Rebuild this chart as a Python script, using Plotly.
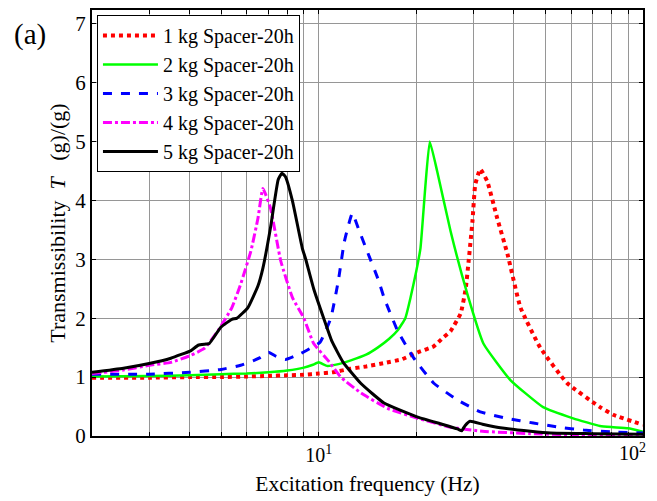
import plotly.graph_objects as go

# ---- data ----
f1 = [2.0, 3, 4, 5, 6, 7, 8, 9, 10, 11, 12.5, 14, 16, 18, 20.2, 22.6, 24.2, 25.5, 27.4, 28.4, 29.0, 29.8, 30.4, 31.5, 33.1, 35.5, 38.2, 41.9, 48.2, 58.3, 73.7, 81, 100]
t1 = [0.99, 0.99, 1.0, 1.0, 1.01, 1.02, 1.03, 1.04, 1.06, 1.08, 1.14, 1.18, 1.24, 1.3, 1.42, 1.52, 1.67, 1.78, 2.08, 2.5, 2.97, 3.65, 4.27, 4.53, 4.32, 3.70, 3.09, 2.18, 1.50, 0.90, 0.49, 0.36, 0.19]

f2 = [2.0, 3, 4, 5, 6, 7, 8, 9, 9.6, 10, 10.6, 11.5, 12.5, 14, 15.2, 16.5, 17.5, 18.5, 19.2, 20.0, 20.6, 21.3, 22.0, 23.2, 25.5, 28.7, 32.2, 39.0, 49.2, 60.9, 73.7, 81, 90, 100]
t2 = [1.01, 1.02, 1.03, 1.05, 1.06, 1.08, 1.11, 1.16, 1.21, 1.25, 1.19, 1.22, 1.28, 1.38, 1.5, 1.65, 1.79, 2.0, 2.35, 2.8, 3.19, 4.2, 5.0, 4.49, 3.48, 2.42, 1.57, 0.95, 0.49, 0.30, 0.17, 0.15, 0.13, 0.07]

f3 = [2.0, 3, 4, 5, 5.75, 6.3, 6.6, 7.0, 7.4, 7.9, 8.8, 9.5, 10.1, 10.9, 11.5, 12.0, 12.7, 13.3, 14.1, 15.3, 15.9, 17.5, 19.6, 22.6, 26.8, 31.5, 38, 45.9, 55, 65.6, 80, 100]
t3 = [1.05, 1.05, 1.08, 1.13, 1.2, 1.28, 1.33, 1.42, 1.35, 1.3, 1.40, 1.5, 1.59, 2.0, 2.64, 3.3, 3.78, 3.5, 3.14, 2.64, 2.35, 1.79, 1.33, 0.9, 0.61, 0.41, 0.3, 0.22, 0.15, 0.10, 0.07, 0.05]

f4 = [2.0, 2.5, 3.0, 3.5, 4.04, 4.45, 4.9, 5.4, 5.75, 6.18, 6.5, 6.73, 7.1, 7.64, 8.3, 9.0, 9.65, 10.7, 11.7, 13.5, 16.3, 20.2, 25.5, 32, 45, 60, 100]
t4 = [1.06, 1.12, 1.2, 1.25, 1.37, 1.49, 1.79, 2.18, 2.58, 3.14, 3.7, 4.2, 3.87, 2.97, 2.35, 2.0, 1.57, 1.28, 1.0, 0.73, 0.47, 0.30, 0.15, 0.08, 0.04, 0.02, 0.01]

f5 = [2.0, 2.5, 3.0, 3.5, 4.04, 4.25, 4.5, 4.6, 5.0, 5.4, 5.6, 6.05, 6.5, 6.73, 7.1, 7.5, 7.7, 7.9, 8.3, 8.9, 9.12, 9.65, 10.36, 11.0, 11.9, 13.5, 15.9, 20.2, 24, 26.8, 27.6, 28.3, 29.3, 32, 36.3, 45, 51.8, 70, 100]
t5 = [1.08, 1.15, 1.23, 1.32, 1.45, 1.54, 1.56, 1.57, 1.85, 1.98, 2.0, 2.18, 2.55, 2.85, 3.53, 4.35, 4.46, 4.4, 3.99, 3.19, 3.0, 2.5, 2.0, 1.6, 1.25, 0.89, 0.56, 0.32, 0.2, 0.12, 0.09, 0.18, 0.25, 0.2, 0.14, 0.08, 0.05, 0.04, 0.03]

names = ["1 kg Spacer-20h", "2 kg Spacer-20h", "3 kg Spacer-20h", "4 kg Spacer-20h", "5 kg Spacer-20h"]

x_tickvals = [2, 3, 4, 5, 6, 7, 8, 9, 10, 20, 30, 40, 50, 60, 70, 80, 90, 100]
x_ticktext = ["", "", "", "", "", "", "", "", "10<sup>1</sup>", "", "", "", "", "", "", "", "", ""]
last_tick_label = "10<sup>2</sup>"
y_tickvals = [0, 1, 2, 3, 4, 5, 6, 7]

FONT = "Liberation Serif"

fig = go.Figure()
series = [
    (f1, t1, "rgb(255,0,0)", "dot", 4),
    (f2, t2, "rgb(0,255,0)", "solid", 2.5),
    (f3, t3, "rgb(0,0,255)", "dash", 3),
    (f4, t4, "rgb(255,0,255)", "dashdot", 3),
    (f5, t5, "rgb(0,0,0)", "solid", 3),
]
for (fx, ty, col, dash, w), nm in zip(series, names):
    fig.add_trace(go.Scatter(x=fx, y=ty, mode="lines", name=nm,
                             line=dict(color=col, dash=dash, width=w, shape="spline", smoothing=0.4)))

grid = "rgb(150,150,150)"
fig.update_layout(
    width=665, height=509,
    margin=dict(l=84, r=30, t=0, b=81),
    plot_bgcolor="white", paper_bgcolor="white",
    font=dict(family=FONT, size=20, color="black"),
    showlegend=True,
    legend=dict(x=0.009, y=0.988, xanchor="left", yanchor="top",
                bgcolor="white", bordercolor="black", borderwidth=1,
                font=dict(family=FONT, size=20, color="black"),
                tracegroupgap=0, itemwidth=55),
    xaxis=dict(type="log", range=[0.30103, 2], tickvals=x_tickvals, ticktext=x_ticktext,
               showgrid=True, gridcolor=grid, gridwidth=1,
               ticks="inside", ticklen=4, tickcolor="black",
               showline=True, linecolor="black", linewidth=2, mirror="allticks",
               title=dict(text="Excitation frequency (Hz)", standoff=11,
                          font=dict(family=FONT, size=21.5)),
               tickfont=dict(family=FONT, size=20), zeroline=False),
    yaxis=dict(range=[0, 7.23], tickvals=y_tickvals,
               showgrid=True, gridcolor=grid, gridwidth=1,
               ticks="inside", ticklen=4, tickcolor="black",
               showline=True, linecolor="black", linewidth=2, mirror="allticks",
               title=dict(text="Transmissibility  <i>T</i>   (g)/(g)", standoff=4,
                          font=dict(family=FONT, size=22)),
               tickfont=dict(family=FONT, size=21), zeroline=False),
    annotations=[
        dict(text="(a)", xref="paper", yref="paper", x=-0.145, y=0.943,
             xanchor="left", yanchor="middle", showarrow=False,
             font=dict(family=FONT, size=29, color="black")),
        dict(text=last_tick_label, xref="paper", yref="paper", x=1, y=0,
             xanchor="right", yanchor="top", xshift=5, yshift=-2, showarrow=False,
             font=dict(family=FONT, size=20, color="black")),
    ],
)

fig.write_html("out.html")
